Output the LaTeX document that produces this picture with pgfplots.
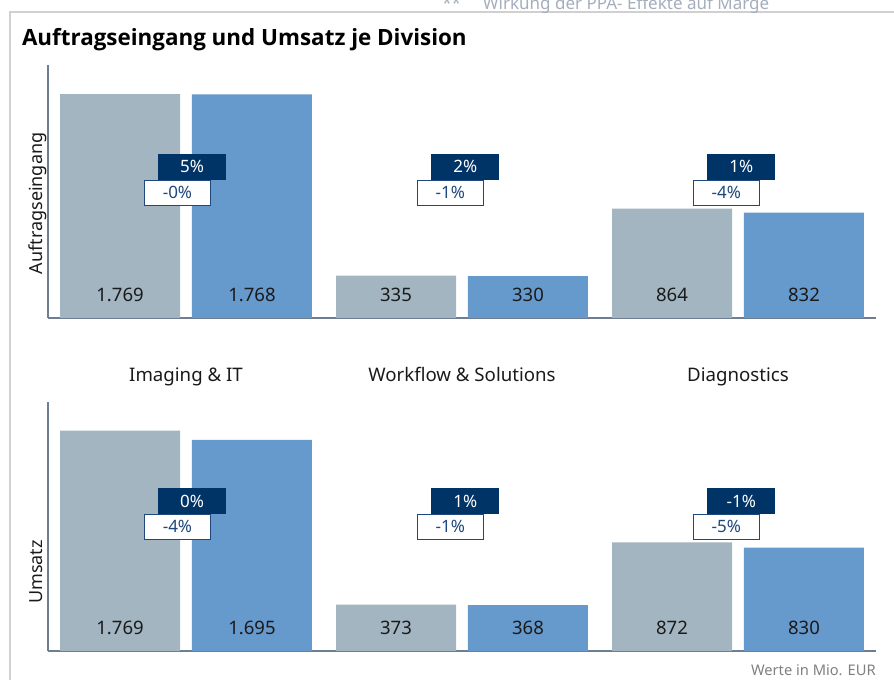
\documentclass[border=0pt]{standalone}
\usepackage{pgfplots}
\pgfplotsset{compat=1.18}
\usepackage{pgfplotstable}
\usepackage{fontspec}
\setmainfont{Noto Sans}
\newfontfamily\titlefont{Open Sans}
\definecolor{barGray}{RGB}{162,181,193}
\definecolor{barBlue}{RGB}{102,153,204}
\definecolor{navy}{RGB}{0,51,102}
\definecolor{navyLine}{RGB}{31,73,125}
\definecolor{axisCol}{RGB}{110,125,145}
\definecolor{frameCol}{RGB}{208,208,208}
\definecolor{txt}{RGB}{26,26,26}
\definecolor{noteCol}{RGB}{128,128,128}
\definecolor{topCol}{RGB}{165,174,189}

\pgfplotstableread{
x prev cur
0 1769 1768
1 335 330
2 864 832
}\dataAE
\pgfplotstableread{
x prev cur
0 1769 1695
1 373 368
2 872 830
}\dataUM

\pgfplotsset{
  panel/.style={
    scale only axis,
    width=621pt,
    xmin=-0.5, xmax=2.5, ymin=0, ymax=2000,
    axis lines*=left,
    axis line style={-, draw=axisCol, line width=0.9pt},
    ytick=\empty,
    major tick length=0pt,
    clip=false,
    /pgf/number format/1000 sep={.},
    /pgf/number format/assume math mode=true,
  },
  prevbar/.style={ybar, bar width=0.435, bar shift=-0.239, fill=barGray, draw=none},
  curbar/.style={ybar, bar width=0.435, bar shift=0.239, fill=barBlue, draw=none},
  vallabel/.style={draw=none, mark=none, nodes near coords, point meta=explicit,
    every node near coord/.append style={anchor=base, font=\fontsize{13.9pt}{16pt}\selectfont, text=txt}},
  darkbadge/.style={draw=none, mark=none, nodes near coords, point meta=explicit symbolic,
    every node near coord/.append style={anchor=center, fill=navy, text=white, inner sep=0pt,
      minimum width=51pt, minimum height=19.5pt, font=\fontsize{12.75pt}{15pt}\selectfont}},
  whitebadge/.style={draw=none, mark=none, nodes near coords, point meta=explicit symbolic,
    every node near coord/.append style={anchor=center, fill=white, draw=navyLine, line width=0.75pt, text=navyLine, inner sep=0pt,
      minimum width=50pt, minimum height=18.75pt, font=\fontsize{12.75pt}{15pt}\selectfont}},
}

\begin{document}
\begin{tikzpicture}
\useasboundingbox (0,0) rectangle (670.5pt,510pt);
% frame
\draw[frameCol, line width=1.1pt] (7pt,501pt) -- (671pt,501pt);
\draw[frameCol, line width=1.1pt] (7.5pt,501pt) -- (7.5pt,-1pt);
% clipped header text
\node[anchor=base west, inner sep=0pt, text=topCol, font=\fontsize{12.75pt}{15pt}\selectfont] at (331.5pt,503.2pt) {**};
\node[anchor=base west, inner sep=0pt, text=topCol, font=\fontsize{12.75pt}{15pt}\selectfont] at (362pt,503.2pt) {Wirkung der PPA- Effekte auf Marge};
% title
\node[anchor=base west, inner sep=0pt, text=black, font=\titlefont\bfseries\fontsize{16.8pt}{19pt}\selectfont] at (16.3pt,475.7pt) {Auftragseingang und Umsatz je Division};

% top panel
\begin{axis}[panel, at={(36pt,271.5pt)}, anchor=south west, height=189.75pt,
  xtick={0,1,2}, xticklabels={Imaging \& IT, Workflow \& Solutions, Diagnostics},
  xticklabel style={anchor=base, yshift=-48pt, text=txt, font=\fontsize{14pt}{16pt}\selectfont}]
\addplot[prevbar] table[x=x, y=prev] {\dataAE};
\addplot[curbar] table[x=x, y=cur] {\dataAE};
\addplot[vallabel] table[x expr=\thisrow{x}-0.239, y expr=128, meta=prev] {\dataAE};
\addplot[vallabel] table[x expr=\thisrow{x}+0.239, y expr=128, meta=cur] {\dataAE};
\addplot[darkbadge] coordinates {(0.022,1195) [5\%] (1.012,1195) [2\%] (2.012,1195) [1\%]};
\addplot[whitebadge] coordinates {(-0.031,990) [-0\%] (0.958,990) [-1\%] (1.958,990) [-4\%]};
\end{axis}

% bottom panel
\begin{axis}[panel, at={(36pt,21.75pt)}, anchor=south west, height=186.75pt, xtick=\empty]
\addplot[prevbar] table[x=x, y=prev] {\dataUM};
\addplot[curbar] table[x=x, y=cur] {\dataUM};
\addplot[vallabel] table[x expr=\thisrow{x}-0.239, y expr=135, meta=prev] {\dataUM};
\addplot[vallabel] table[x expr=\thisrow{x}+0.239, y expr=135, meta=cur] {\dataUM};
\addplot[darkbadge] coordinates {(0.022,1205) [0\%] (1.012,1205) [1\%] (2.012,1205) [-1\%]};
\addplot[whitebadge] coordinates {(-0.031,997) [-4\%] (0.958,997) [-1\%] (1.958,997) [-5\%]};
\end{axis}

% y labels
\node[rotate=90, text=txt, font=\fontsize{13.5pt}{16pt}\selectfont] at (28.5pt,357.4pt) {Auftragseingang};
\node[rotate=90, text=txt, font=\fontsize{13.5pt}{16pt}\selectfont] at (27pt,81pt) {Umsatz};
% note
\node[anchor=base east, inner sep=0pt, text=noteCol, font=\fontsize{11pt}{13pt}\selectfont] at (657pt,3pt) {Werte in Mio. EUR};
\end{tikzpicture}
\end{document}
